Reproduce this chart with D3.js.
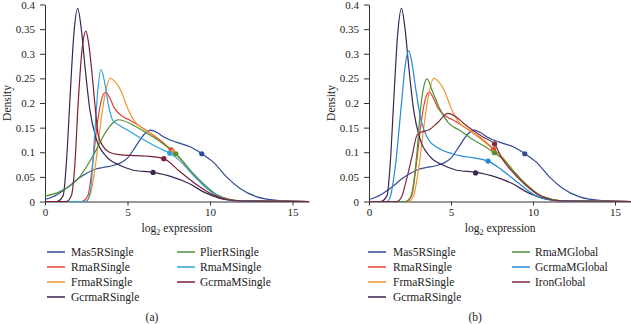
<!DOCTYPE html>
<html><head><meta charset="utf-8">
<script src="https://cdn.jsdelivr.net/npm/d3@7"></script>
<style>
body{margin:0;background:#fff;}
svg{display:block;}
text{font-family:"Liberation Serif","Times New Roman",serif;fill:#222;}
</style></head>
<body>
<svg id="c" width="631" height="324"></svg>
<script>
// ---------- data ----------
const yTicks = [0,0.05,0.1,0.15,0.2,0.25,0.3,0.35,0.4];
const xTicks = [0,5,10,15];

const mas5RSingle = [[0,0.004],[0.5,0.010],[1,0.020],[1.5,0.032],[2,0.046],[2.5,0.057],[3,0.065],[3.5,0.069],[4,0.072],[4.5,0.077],[5,0.088],[5.5,0.112],[6,0.136],[6.4,0.145],[6.8,0.140],[7.2,0.131],[8,0.120],[8.8,0.111],[9.5,0.097],[10.2,0.080],[11,0.050],[11.8,0.027],[12.8,0.010],[14.2,0.002],[16,0]];
const rmaRSingle = [[0,0],[2.2,0],[2.6,0.012],[2.9,0.08],[3.2,0.165],[3.45,0.21],[3.68,0.222],[3.9,0.212],[4.2,0.19],[4.6,0.175],[5.1,0.166],[6.1,0.145],[7.0,0.124],[7.65,0.105],[8.2,0.087],[8.8,0.062],[9.6,0.034],[10.4,0.013],[11.2,0.004],[12,0.001],[16,0]];
const frmaRSingle = [[0,0],[2.4,0],[2.7,0.01],[3.0,0.06],[3.3,0.14],[3.6,0.21],[3.95,0.25],[4.2,0.245],[4.6,0.225],[5.0,0.19],[5.5,0.16],[6.1,0.145],[7,0.122],[7.75,0.101],[8.2,0.087],[8.8,0.062],[9.6,0.034],[10.4,0.013],[11.2,0.004],[12,0.001],[16,0]];
const gcrmaRSingle = [[0,0],[0.7,0],[1.1,0.012],[1.3,0.08],[1.5,0.2],[1.75,0.34],[1.98,0.392],[2.2,0.35],[2.42,0.275],[2.72,0.186],[3.1,0.128],[3.7,0.092],[4.5,0.074],[5.3,0.064],[6.55,0.059],[7.7,0.050],[8.7,0.037],[9.7,0.018],[10.8,0.005],[12,0.001],[16,0]];
const plierRSingle = [[0,0.011],[0.9,0.02],[2.1,0.05],[3.0,0.098],[3.7,0.142],[4.45,0.166],[5.3,0.156],[6.3,0.136],[7.0,0.121],[7.93,0.097],[8.4,0.08],[8.9,0.06],[9.6,0.036],[10.4,0.014],[11.2,0.004],[12.2,0.001],[16,0]];
const rmaMSingle = [[0,0],[2.5,0],[2.75,0.02],[3.0,0.13],[3.2,0.225],[3.39,0.268],[3.6,0.245],[3.85,0.195],[4.1,0.165],[4.5,0.155],[5.1,0.143],[5.95,0.126],[6.8,0.11],[7.56,0.098],[8.1,0.085],[8.8,0.06],[9.6,0.033],[10.4,0.012],[11.2,0.003],[12,0.001],[16,0]];
const gcrmaMSingle = [[0,0],[1.3,0],[1.6,0.012],[1.8,0.07],[2.02,0.206],[2.25,0.31],[2.48,0.346],[2.65,0.32],[2.82,0.27],[3.0,0.206],[3.23,0.135],[3.5,0.113],[3.9,0.1],[4.5,0.095],[5.5,0.093],[6.5,0.091],[7.2,0.087],[8.2,0.06],[9.2,0.034],[10.2,0.013],[11,0.004],[12,0.001],[16,0]];
const rmaMGlobal = [[0,0],[2.3,0],[2.6,0.015],[2.9,0.09],[3.15,0.19],[3.35,0.235],[3.54,0.249],[3.84,0.226],[4.35,0.186],[4.86,0.159],[5.5,0.145],[6.28,0.127],[7.0,0.113],[7.66,0.098],[8.2,0.085],[8.8,0.062],[9.6,0.034],[10.4,0.013],[11.2,0.004],[12,0.001],[16,0]];
const gcrmaMGlobal = [[0,0],[1.1,0],[1.3,0.01],[1.6,0.07],[2.0,0.206],[2.2,0.274],[2.42,0.306],[2.6,0.285],[2.83,0.233],[3.13,0.172],[3.64,0.125],[4.25,0.108],[5.06,0.097],[5.67,0.092],[6.28,0.089],[7.26,0.082],[8.1,0.064],[9.13,0.037],[10.1,0.013],[11.2,0.003],[12.2,0.001],[16,0]];
const ironGlobal = [[0,0],[1.7,0],[2.0,0.01],[2.25,0.04],[2.62,0.091],[2.93,0.135],[3.2,0.141],[3.64,0.145],[4.15,0.159],[4.82,0.179],[5.3,0.172],[5.8,0.158],[6.4,0.143],[7.0,0.13],[7.66,0.116],[8.1,0.088],[8.72,0.061],[9.53,0.034],[10.35,0.013],[11.2,0.003],[12.2,0.001],[16,0]];

// marker points [x, density]
const markersA = {Mas5RSingle:[9.5,0.097],RmaRSingle:[7.65,0.105],FrmaRSingle:[7.75,0.101],GcrmaRSingle:[6.55,0.059],PlierRSingle:[7.93,0.097],RmaMSingle:[7.56,0.098],GcrmaMSingle:[7.2,0.087]};
const markersB = {Mas5RSingle:[9.5,0.097],RmaRSingle:[7.6,0.106],FrmaRSingle:[7.62,0.1],GcrmaRSingle:[6.5,0.058],RmaMGlobal:[7.66,0.099],GcrmaMGlobal:[7.26,0.082],IronGlobal:[7.66,0.117]};

const colors = {Mas5RSingle:"#2f4b96",RmaRSingle:"#e8432f",FrmaRSingle:"#f09631",GcrmaRSingle:"#3b2552",PlierRSingle:"#4f9238",RmaMSingle:"#2fa0da",GcrmaMSingle:"#7a1f36",RmaMGlobal:"#4f9238",GcrmaMGlobal:"#2489d4",IronGlobal:"#7e2c3c"};

const panelA = {
  seriesNames:["Mas5RSingle","RmaRSingle","FrmaRSingle","GcrmaRSingle","PlierRSingle","RmaMSingle","GcrmaMSingle"],
  data:{Mas5RSingle:mas5RSingle,RmaRSingle:rmaRSingle,FrmaRSingle:frmaRSingle,GcrmaRSingle:gcrmaRSingle,PlierRSingle:plierRSingle,RmaMSingle:rmaMSingle,GcrmaMSingle:gcrmaMSingle},
  markers:markersA, label:"(a)",
  x0:45, x1:309, legendCols:[[47,71],[177,200]]
};
const panelB = {
  seriesNames:["Mas5RSingle","RmaRSingle","FrmaRSingle","GcrmaRSingle","RmaMGlobal","GcrmaMGlobal","IronGlobal"],
  data:{Mas5RSingle:mas5RSingle,RmaRSingle:rmaRSingle,FrmaRSingle:frmaRSingle,GcrmaRSingle:gcrmaRSingle,RmaMGlobal:rmaMGlobal,GcrmaMGlobal:gcrmaMGlobal,IronGlobal:ironGlobal},
  markers:markersB, label:"(b)",
  x0:369, x1:631.4, legendCols:[[368,393],[512,535]]
};

// ---------- drawing ----------
const svg = d3.select("#c");
const yTop = 4.5, yBot = 201.5;

function drawPanel(p){
  const g = svg.append("g");
  const x = d3.scaleLinear().domain([0,16]).range([p.x0,p.x1]);
  const y = d3.scaleLinear().domain([0,0.4]).range([yBot,yTop]);

  // axes
  const ax = g.append("g").attr("transform",`translate(0,${yBot})`)
    .call(d3.axisBottom(x).tickValues(xTicks).tickSize(4).tickPadding(3).tickSizeOuter(0));
  const ay = g.append("g").attr("transform",`translate(${p.x0},0)`)
    .call(d3.axisLeft(y).tickValues(yTicks).tickSize(5).tickPadding(5).tickSizeOuter(0)
      .tickFormat(d=>String(+d.toFixed(2))));
  [ax,ay].forEach(a=>{
    a.selectAll("path,line").attr("stroke","#333").attr("stroke-width",1);
    a.selectAll("text").attr("font-size",11).attr("fill","#222")
      .style("font-family",'"Liberation Serif",serif');
  });

  // titles
  const xt = g.append("text").attr("x",(p.x0+p.x1)/2).attr("y",232)
    .attr("text-anchor","middle").attr("font-size",11.5);
  xt.append("tspan").text("log");
  xt.append("tspan").attr("font-size",8).attr("dy",3).text("2");
  xt.append("tspan").attr("dy",-3).text(" expression");

  g.append("text").attr("transform",`translate(${p.x0-34},${(yTop+yBot)/2}) rotate(-90)`)
    .attr("text-anchor","middle").attr("font-size",11.5).text("Density");

  // lines
  const line = d3.line().x(d=>x(d[0])).y(d=>y(d[1])).curve(d3.curveMonotoneX);
  p.seriesNames.forEach(n=>{
    g.append("path").datum(p.data[n]).attr("d",line)
      .attr("fill","none").attr("stroke",colors[n]).attr("stroke-width",1.2);
  });
  p.seriesNames.forEach(n=>{
    const m = p.markers[n];
    g.append("circle").attr("cx",x(m[0])).attr("cy",y(m[1])).attr("r",2.6)
      .attr("fill",colors[n]);
  });

  // legend
  p.seriesNames.forEach((n,i)=>{
    const col = i<4?0:1, row = i<4?i:i-4;
    const [lx,tx] = p.legendCols[col];
    const yy = 252 + row*15;
    g.append("line").attr("x1",lx).attr("x2",lx+18).attr("y1",yy).attr("y2",yy)
      .attr("stroke",colors[n]).attr("stroke-width",1.5);
    g.append("text").attr("x",tx).attr("y",yy+4).attr("font-size",11.5).text(n);
  });

  g.append("text").attr("x",(p.x0+p.x1)/2-25).attr("y",321)
    .attr("text-anchor","middle").attr("font-size",11.5).text(p.label);
}
drawPanel(panelA);
drawPanel(panelB);
</script>
</body></html>
